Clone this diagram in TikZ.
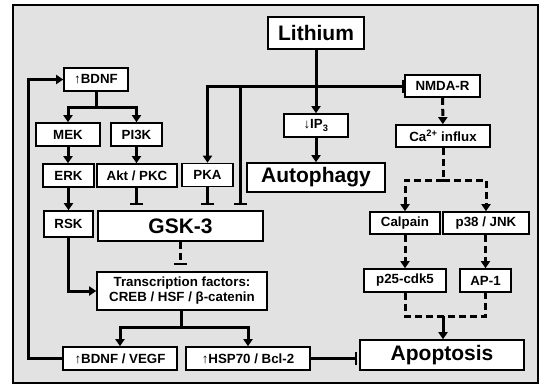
\documentclass[tikz,border=0pt]{standalone}
\usepackage{fontspec}
\setmainfont{Liberation Sans}
\usetikzlibrary{arrows.meta}
\definecolor{bg}{RGB}{226,226,226}
\begin{document}
\begin{tikzpicture}[x=1pt,y=-1pt,
 box/.style={draw=black,line width=1.6pt,fill=white,inner sep=0pt,align=center,font=\fontsize{13.3}{15}\selectfont\bfseries},
 bigbox/.style={box,font=\fontsize{21}{24}\selectfont\bfseries},
 conn/.style={line width=3pt},
 arr/.style={conn,-{Triangle[length=7pt,width=9pt]}},
 inh/.style={conn,-{Bar[width=13pt,line width=2.6pt]}},
 dsh/.style={dash pattern=on 7pt off 4pt}]
\useasboundingbox (0,0) rectangle (545,386);
\draw[line width=2.5pt,fill=bg] (13,5) rectangle (538,383);
% nodes
\node[bigbox,minimum width=96pt,minimum height=32pt] (lith) at (316,33) {Lithium};
\node[box,minimum width=75pt,minimum height=22pt] (nmda) at (442.5,86) {NMDA-R};
\node[box,minimum width=64pt,minimum height=23pt] (ip3) at (316,125.5) {↓IP\textsubscript{3}};
\node[box,minimum width=94pt,minimum height=22pt] (ca) at (443,136) {Ca\textsuperscript{2+} influx};
\node[bigbox,minimum width=138pt,minimum height=29pt] (auto) at (316,177.5) {Autophagy};
\node[box,minimum width=64pt,minimum height=23pt] (bdnf) at (96,79.5) {↑BDNF};
\node[box,minimum width=64pt,minimum height=23pt] (mek) at (68,134.5) {MEK};
\node[box,minimum width=51pt,minimum height=23pt] (pi3k) at (136.5,134.5) {PI3K};
\node[box,minimum width=51pt,minimum height=23pt] (erk) at (68.5,175.5) {ERK};
\node[box,minimum width=80pt,minimum height=23pt] (akt) at (137,175.5) {Akt / PKC};
\node[box,minimum width=51pt,minimum height=23pt] (pka) at (207.5,175) {PKA};
\node[box,minimum width=49pt,minimum height=26pt] (rsk) at (68.5,224) {RSK};
\node[bigbox,minimum width=165pt,minimum height=30pt] (gsk) at (180.5,226) {GSK-3};
\node[box,minimum width=170pt,minimum height=38pt] (tf) at (182,291) {Transcription factors:\\CREB / HSF / β-catenin};
\node[box,minimum width=114pt,minimum height=23pt] (bv) at (120,358.5) {↑BDNF / VEGF};
\node[box,minimum width=124pt,minimum height=23pt] (hsp) at (248,358.5) {↑HSP70 / Bcl-2};
\node[box,minimum width=70pt,minimum height=22pt] (calp) at (405,223) {Calpain};
\node[box,minimum width=86pt,minimum height=22pt] (p38) at (486,223) {p38 / JNK};
\node[box,minimum width=82pt,minimum height=23pt] (p25) at (405,280.5) {p25-cdk5};
\node[box,minimum width=51pt,minimum height=23pt] (ap1) at (485.5,280.5) {AP-1};
\node[bigbox,minimum width=164pt,minimum height=30pt] (apo) at (442,355) {Apoptosis};
% lithium connectors
\coordinate (j) at (316,86);
\coordinate (j2) at (240,86);
\draw[arr] (lith) -- (ip3);
\draw[arr] (ip3) -- (auto);
\draw[inh] (j) -- (j -| nmda.west);
\draw[arr] (j) -| (pka.north);
\draw[inh,shorten >=5pt] (j2) -- (j2 |- gsk.north);
% NMDA path
\draw[arr,dsh] (nmda) -- (ca);
\coordinate (cs) at (443,180);
\draw[conn,dsh] (ca) -- (cs);
\draw[arr,dsh] (cs) -| (calp.north);
\draw[arr,dsh] (cs) -| (p38.north);
\draw[arr,dsh] (calp) -- (p25);
\draw[arr,dsh] (p38.south -| ap1) -- (ap1);
\coordinate (am) at (443,316);
\draw[conn,dsh] (p25.south) |- (am) -| (ap1.south);
\draw[arr] (am) -- (apo.north -| am);
\draw[inh,shorten >=2pt] (hsp) -- (apo.west |- hsp);
% BDNF tree
\coordinate (bs) at (96,107);
\draw[conn] (bdnf) -- (bs);
\draw[arr] (bs) -| (mek.north);
\draw[arr] (bs) -| (pi3k.north);
\draw[arr] (mek) -- (erk.north -| mek);
\draw[arr] (pi3k) -- (akt.north -| pi3k);
\draw[arr] (erk) -- (rsk.north -| erk);
\draw[inh,shorten >=5pt] (akt.south -| pi3k) -- (gsk.north -| pi3k);
\draw[inh,shorten >=5pt] (pka) -- (gsk.north -| pka);
\draw[arr] (rsk.south) |- (tf.west);
\draw[inh,dsh,shorten >=6pt] (gsk.south -| 180,0) -- (tf.north -| 180,0);
\coordinate (ts) at (181,327);
\draw[conn] (tf.south -| ts) -- (ts);
\draw[arr] (ts) -| (bv.north);
\draw[arr] (ts) -| (hsp.north);
\coordinate (fb) at (28,358.5);
\draw[arr] (bv.west) -- (fb) |- (bdnf.west);
\end{tikzpicture}
\end{document}
